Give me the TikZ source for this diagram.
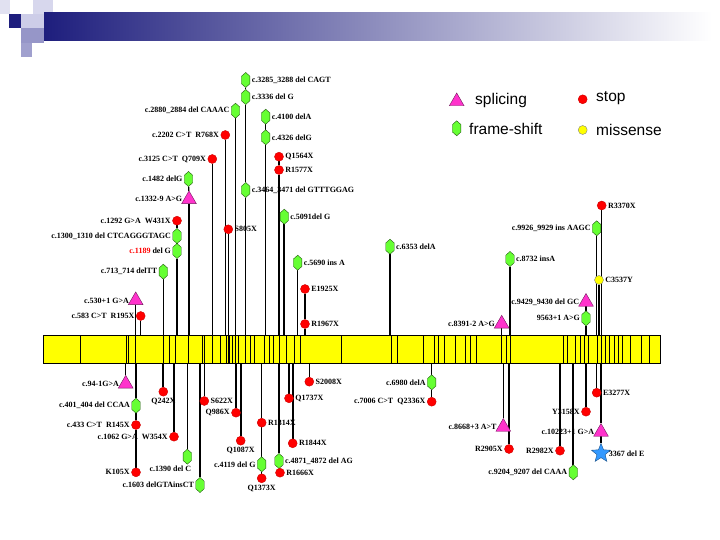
\documentclass[tikz,border=0pt]{standalone}
\usepackage{fontspec}
\setmainfont{Liberation Serif}
\newfontfamily\legendfont{Liberation Sans}
\usetikzlibrary{shapes.geometric}

\pgfdeclarelayer{background}
\pgfsetlayers{background,main}

\definecolor{stopred}{RGB}{255,0,0}
\definecolor{fsgreen}{RGB}{102,255,51}
\definecolor{splpink}{RGB}{255,51,204}
\definecolor{misyellow}{RGB}{255,255,0}
\definecolor{starblue}{RGB}{51,153,255}
\definecolor{navy}{RGB}{30,30,125}
\definecolor{lav}{RGB}{205,205,232}
\definecolor{midlav}{RGB}{150,150,200}

\tikzset{
  lbl/.style={font=\fontsize{8}{9}\selectfont\bfseries, inner sep=1.5pt},
  legtxt/.style={font=\legendfont\fontsize{15.5}{17}\selectfont, inner sep=0pt, anchor=west},
  stopdot/.style={circle, fill=stopred, draw=stopred!80!black, inner sep=0pt, minimum size=9pt},
  misdot/.style={circle, fill=misyellow, draw=gray, inner sep=0pt, minimum size=9pt},
  fshex/.style={regular polygon, regular polygon sides=6, regular polygon rotate=30,
    fill=fsgreen, draw=fsgreen!35!black, inner sep=0pt, minimum size=15pt, xscale=0.65},
  spltri/.style={regular polygon, regular polygon sides=3, fill=splpink,
    draw=splpink!45!black, inner sep=0pt, minimum size=17pt},
  delstar/.style={star, star points=5, star point ratio=2.3, fill=starblue,
    draw=starblue!55!black, inner sep=0pt, minimum size=20pt},
  genebar/.style={rectangle, draw=black, fill=misyellow, line width=0.8pt, inner sep=0pt,
    minimum width=617pt, minimum height=28pt},
  stem/.style={line width=1.1pt},
  thickstem/.style={line width=1.9pt},
  exon/.style={line width=0.7pt}
}

\begin{document}
\begin{tikzpicture}[x=1pt,y=-1pt]
  \useasboundingbox (0,0) rectangle (720,540);

  % slide header
  \fill[lav!60] (0,0) rectangle (10,14);
  \fill[lav!80] (33,0) rectangle (53,14);
  \fill[navy] (9,14) rectangle (21,28);
  \fill[lav] (21,14) rectangle (44,28);
  \fill[midlav] (21,28) rectangle (44,43);
  \fill[midlav!90] (21,43) rectangle (32,57);
  \shade[left color=navy, right color=white] (44,13) rectangle (712,41);

  % gene
  \node[genebar] (gene) at (351.5,349) {};
  \foreach \ex in {80,126.5,128.6,135.8,163.7,169.6,175.1,188.7,202.2,204.7,212.8,220.4,
      225.9,228,229.7,232.2,235.2,238.2,245.8,250,254.2,264.8,269,273.3,279.6,286,294.4,
      300.8,341,391.7,397.2,423.5,434,438.3,444.6,455.2,465.8,470,476.4,501.7,506,510.2,
      563,567.3,575.8,580,584.2,588.5,597,601.2,605.4,609.6,613.9,618,622.3,630.8,641.4,649.8}
    \draw[exon] (\ex,335) -- (\ex,363);

  % legend
  \node[spltri] (legspl) at (456.7,101.5) {};
  \node[legtxt] (legspltxt) at (475,100) {splicing};
  \node[stopdot] (legstop) at (582.7,99.3) {};
  \node[legtxt] (legstoptxt) at (596,98.5) {stop};
  \node[fshex] (legfs) at (456.7,128.3) {};
  \node[legtxt] (legfstxt) at (469,128.5) {frame-shift};
  \node[misdot] (legmis) at (582.7,130) {};
  \node[legtxt] (legmistxt) at (596,129.5) {missense};

  % mutations above the gene
  \node[fshex, label={[lbl]right:c.3285\_3288 del CAGT}] (h3285) at (245.7,80) {};
  \node[fshex, label={[lbl]right:c.3336 del G}] (h3336) at (245.7,97) {};
  \node[fshex, label={[lbl]left:c.2880\_2884 del CAAAC}] (h2880) at (235.5,110.7) {};
  \node[fshex, label={[lbl]right:c.4100 delA}] (h4100) at (265.7,116.7) {};
  \node[stopdot, label={[lbl]left:c.2202 C>T\ \ R768X}] (r768) at (225.3,135) {};
  \node[fshex, label={[lbl]right:c.4326 delG}] (h4326) at (265.7,137.3) {};
  \node[stopdot, label={[lbl]right:Q1564X}] (q1564) at (279,156.7) {};
  \node[stopdot, label={[lbl]left:c.3125 C>T\ \ Q709X}] (q709) at (212.3,159) {};
  \node[stopdot, label={[lbl]right:R1577X}] (r1577) at (279,170) {};
  \node[fshex, label={[lbl]left:c.1482 delG}] (h1482) at (188.5,179) {};
  \node[fshex, label={[lbl]right:c.3464\_3471 del GTTTGGAG}] (h3464) at (245.7,190) {};
  \node[spltri, label={[lbl]left:c.1332-9 A>G}] (s1332) at (189,199.4) {};
  \node[stopdot, label={[lbl]right:R3370X}] (r3370) at (601.7,205.5) {};
  \node[fshex, label={[lbl]right:c.5091del G}] (h5091) at (284.3,216.7) {};
  \node[stopdot, label={[lbl]left:c.1292 G>A\ \ W431X}] (w431) at (177,220.7) {};
  \node[fshex, label={[lbl]left:c.9926\_9929 ins AAGC}] (h9926) at (596.7,228.3) {};
  \node[stopdot, label={[lbl]right:S805X}] (s805) at (228.3,229.3) {};
  \node[fshex, label={[lbl]left:c.1300\_1310 del CTCAGGGTAGC}] (h1300) at (177,236) {};
  \node[fshex, label={[lbl]right:c.6353 delA}] (h6353) at (390,246.7) {};
  \node[fshex, label={[lbl]left:{\color{stopred}c.1189} del G}] (h1189) at (177,251) {};
  \node[fshex, label={[lbl]right:c.8732 insA}] (h8732) at (510,259) {};
  \node[fshex, label={[lbl]right:c.5690 ins A}] (h5690) at (297.7,262.7) {};
  \node[fshex, label={[lbl]left:c.713\_714 delTT}] (h713) at (163.3,271.7) {};
  \node[misdot, label={[lbl]right:C3537Y}] (c3537) at (599,280) {};
  \node[stopdot, label={[lbl]right:E1925X}] (e1925) at (305,289) {};
  \node[spltri, label={[lbl]left:c.530+1 G>A}] (s530) at (135.7,300.4) {};
  \node[spltri, label={[lbl]left:c.9429\_9430 del GC}] (s9429) at (586,302) {};
  \node[stopdot, label={[lbl]left:c.583 C>T\ \ R195X}] (r195) at (140.7,316) {};
  \node[fshex, label={[lbl]left:9563+1 A>G}] (h9563) at (586,318.3) {};
  \node[spltri, label={[lbl]left:c.8391-2 A>G}] (s8391) at (501.7,323.8) {};
  \node[stopdot, label={[lbl]right:R1967X}] (r1967) at (305,324) {};

  % mutations below the gene
  \node[spltri, label={[lbl]left:c.94-1G>A}] (s94) at (125.7,383.8) {};
  \node[stopdot, label={[lbl]below:Q242X}] (q242) at (163.3,391.7) {};
  \node[stopdot, label={[lbl]right:S622X}] (s622) at (204.3,401) {};
  \node[fshex, label={[lbl]left:c.401\_404 del CCAA}] (h401) at (136,405.7) {};
  \node[stopdot, label={[lbl]left:Q986X}] (q986) at (236,412.7) {};
  \node[stopdot, label={[lbl]left:c.433 C>T\ \ R145X}] (r145) at (136,425) {};
  \node[stopdot, label={[lbl]right:R1314X}] (r1314) at (261.7,422.7) {};
  \node[stopdot, label={[lbl]left:c.1062 G>A\ \ W354X}] (w354) at (174,436.7) {};
  \node[stopdot, label={[lbl]below:Q1087X}] (q1087) at (240.7,440.7) {};
  \node[fshex, label={[lbl,xshift=-17pt]below:c.1390 del C}] (h1390) at (187.3,456.7) {};
  \node[stopdot, label={[lbl]right:R1844X}] (r1844) at (292.7,443.3) {};
  \node[fshex, label={[lbl]right:c.4871\_4872 del AG}] (h4871) at (279,461) {};
  \node[fshex, label={[lbl]left:c.4119 del G}] (h4119) at (261.7,464.3) {};
  \node[stopdot, label={[lbl]left:K105X}] (k105) at (136,472.3) {};
  \node[stopdot, label={[lbl]right:R1666X}] (r1666) at (280,472.7) {};
  \node[stopdot, label={[lbl]below:Q1373X}] (q1373) at (261.7,478.3) {};
  \node[fshex, label={[lbl]left:c.1603 delGTAinsCT}] (h1603) at (200,485) {};
  \node[stopdot, label={[lbl]right:Q1737X}] (q1737) at (289,398.3) {};
  \node[stopdot, label={[lbl]right:S2008X}] (s2008) at (309.3,381.7) {};
  \node[fshex, label={[lbl]left:c.6980 delA}] (h6980) at (431.7,382.3) {};
  \node[stopdot, label={[lbl]left:c.7006 C>T\ \ Q2336X}] (q2336) at (431.7,401.7) {};
  \node[stopdot, label={[lbl]right:E3277X}] (e3277) at (596.7,392.7) {};
  \node[stopdot, label={[lbl]left:Y3158X}] (y3158) at (586,411.7) {};
  \node[spltri, label={[lbl]left:c.8668+3 A>T}] (s8668) at (503.3,427) {};
  \node[spltri, label={[lbl]left:c.10223+1 G>A}] (s10223) at (601,432) {};
  \node[stopdot, label={[lbl]left:R2905X}] (r2905) at (509,449) {};
  \node[stopdot, label={[lbl]left:R2982X}] (r2982) at (560,450.7) {};
  \node[delstar, label={[lbl]right:3367 del E}] (d3367) at (601,453.3) {};
  \node[fshex, label={[lbl]left:c.9204\_9207 del CAAA}] (h9204) at (573.3,472.3) {};

  \begin{pgfonlayer}{background}
    % stems above
    \draw[stem] (h3285) -- (h3336);
    \draw[stem] (h3336) -- (h3464);
    \draw[stem] (h3464) -- (h3464 |- gene.north);
    \draw[stem] (h2880) -- (h2880 |- gene.north);
    \draw[stem] (h4100) -- (h4326);
    \draw[stem] (h4326) -- (h4326 |- gene.north);
    \draw[stem] (r768) -- (r768 |- gene.north);
    \draw[stem] (q709) -- (q709 |- gene.north);
    \draw[thickstem] (q1564) -- (r1577);
    \draw[thickstem] (r1577) -- (r1577 |- gene.north);
    \draw[stem] (h1482) -- (s1332);
    \draw[stem] (s1332) -- (s1332 |- gene.north);
    \draw[stem] (w431) -- (h1300);
    \draw[stem] (h1300) -- (h1189);
    \draw[stem] (h1189) -- (h1189 |- gene.north);
    \draw[stem] (s805) -- (s805 |- gene.north);
    \draw[thickstem] (h5091) -- (h5091 |- gene.north);
    \draw[stem] (h5690) -- (h5690 |- gene.north);
    \draw[thickstem] (e1925) -- (r1967);
    \draw[thickstem] (r1967) -- (r1967 |- gene.north);
    \draw[stem] (h6353) -- (h6353 |- gene.north);
    \draw[stem] (h713) -- (h713 |- gene.north);
    \draw[stem] (s530) -- (s530 |- gene.north);
    \draw[stem] (r195) -- (r195 |- gene.north);
    \draw[stem] (h8732) -- (h8732 |- gene.north);
    \draw[stem] (s8391) -- (s8391 |- gene.north);
    \draw[stem] (r3370) -- (r3370 |- gene.north);
    \draw[stem] (h9926) -- (h9926 |- gene.north);
    \draw[stem] (c3537) -- (c3537 |- gene.north);
    \draw[thickstem] (s9429) -- (h9563);
    \draw[thickstem] (h9563) -- (h9563 |- gene.north);
    % stems below
    \draw[stem] (s94 |- gene.south) -- (s94);
    \draw[thickstem] (q242 |- gene.south) -- (q242);
    \draw[stem] (s622 |- gene.south) -- (s622);
    \draw[stem] (h401 |- gene.south) -- (h401);
    \draw[stem] (h401) -- (r145);
    \draw[stem] (r145) -- (k105);
    \draw[stem] (q986 |- gene.south) -- (q986);
    \draw[stem] (w354 |- gene.south) -- (w354);
    \draw[thickstem] (q1087 |- gene.south) -- (q1087);
    \draw[stem] (h1390 |- gene.south) -- (h1390);
    \draw[stem] (h1603 |- gene.south) -- (h1603);
    \draw[stem] (r1314 |- gene.south) -- (r1314);
    \draw[stem] (r1314) -- (h4119);
    \draw[stem] (h4119) -- (q1373);
    \draw[stem] (h4871 |- gene.south) -- (h4871);
    \draw[stem] (h4871) -- (r1666);
    \draw[stem] (q1737 |- gene.south) -- (q1737);
    \draw[thickstem] (r1844 |- gene.south) -- (r1844);
    \draw[stem] (s2008 |- gene.south) -- (s2008);
    \draw[stem] (h6980 |- gene.south) -- (h6980);
    \draw[stem] (h6980) -- (q2336);
    \draw[stem] (s8668 |- gene.south) -- (s8668);
    \draw[thickstem] (r2905 |- gene.south) -- (r2905);
    \draw[stem] (r2982 |- gene.south) -- (r2982);
    \draw[thickstem] (h9204 |- gene.south) -- (h9204);
    \draw[stem] (y3158 |- gene.south) -- (y3158);
    \draw[stem] (e3277 |- gene.south) -- (e3277);
    \draw[stem] (s10223 |- gene.south) -- (s10223);
    \draw[stem] (s10223) -- (d3367);
  \end{pgfonlayer}
\end{tikzpicture}
\end{document}
